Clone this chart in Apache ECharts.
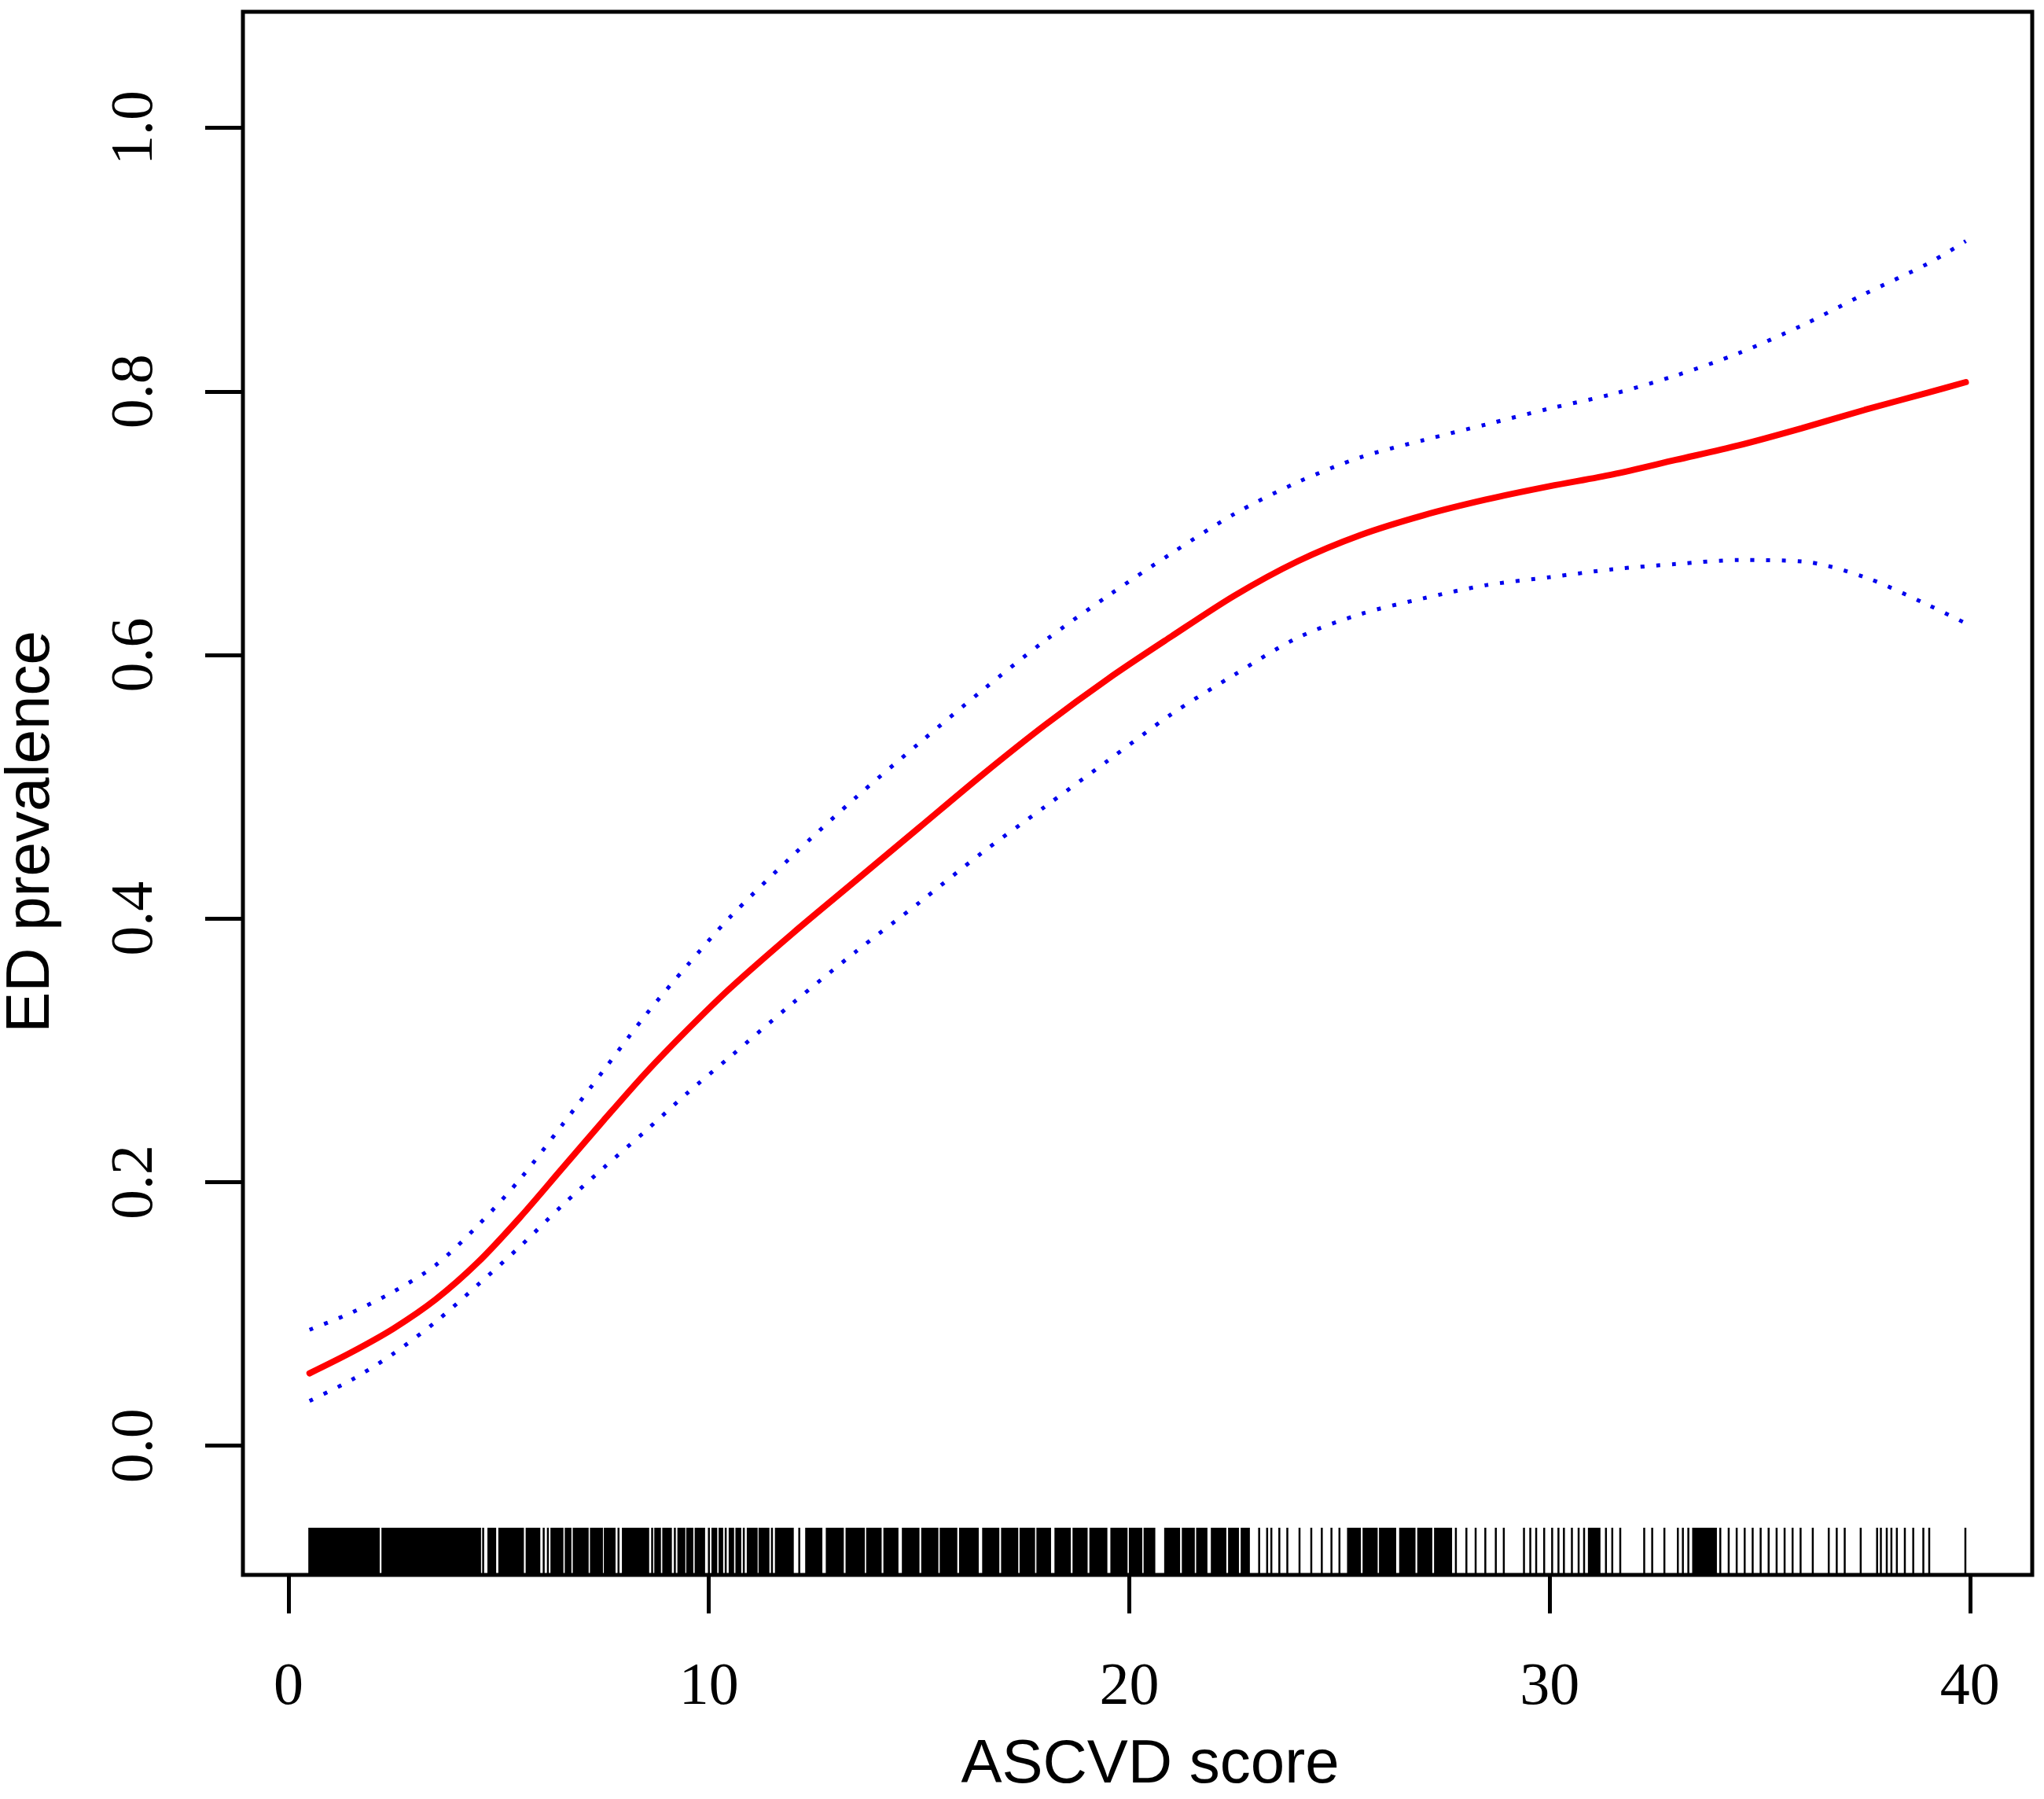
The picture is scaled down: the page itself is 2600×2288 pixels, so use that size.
<!DOCTYPE html>
<html>
<head>
<meta charset="utf-8">
<style>
  html, body { margin: 0; padding: 0; background: #fff; }
  #chart { width: 2600px; height: 2288px; }
</style>
</head>
<body>
<div id="chart"></div>
<script src="https://cdn.jsdelivr.net/npm/echarts@6/dist/echarts.min.js"></script>
<script>
var scoreX = [0.5, 1.5, 2.5, 3.5, 4.5, 5.5, 6.5, 7.5, 8.5, 9.5, 10.5, 12, 13.5, 15, 16.5, 18, 19.5,
              21, 22.5, 24, 25.5, 27, 28.5, 30, 31.5, 33, 34.5, 36, 37.5, 39, 39.9];
// fitted prevalence (red)
var fitY = [0.055, 0.071, 0.089, 0.111, 0.139, 0.173, 0.210, 0.247, 0.283, 0.316, 0.347, 0.389, 0.429,
            0.469, 0.509, 0.547, 0.582, 0.614, 0.645, 0.671, 0.691, 0.706, 0.718, 0.728, 0.737, 0.748,
            0.759, 0.772, 0.786, 0.799, 0.807];
// upper / lower confidence band (blue dotted)
var upperY = [0.088, 0.101, 0.117, 0.137, 0.167, 0.202, 0.243, 0.285, 0.327, 0.365, 0.401, 0.448, 0.492,
              0.533, 0.573, 0.611, 0.645, 0.677, 0.707, 0.731, 0.750, 0.763, 0.775, 0.787, 0.798, 0.812,
              0.829, 0.850, 0.874, 0.897, 0.914];
var lowerY = [0.034, 0.050, 0.070, 0.094, 0.122, 0.151, 0.182, 0.211, 0.239, 0.268, 0.295, 0.336, 0.375,
              0.412, 0.450, 0.485, 0.520, 0.555, 0.585, 0.613, 0.631, 0.643, 0.653, 0.659, 0.665, 0.669,
              0.672, 0.671, 0.659, 0.638, 0.624];

// rug: spans where the ticks merge into solid black, then single ticks
var rugBlocks = [[0.48, 2.16], [2.22, 4.57], [4.74, 4.93], [5.00, 5.59], [5.65, 5.98], [6.24, 6.53],
                 [6.58, 6.72], [6.77, 7.13], [7.18, 7.47], [7.51, 7.77], [7.94, 8.57], [8.71, 8.85],
                 [8.90, 9.11], [9.26, 9.43], [9.47, 9.62], [9.67, 9.90], [10.07, 10.19], [10.24, 10.33],
                 [10.48, 10.59], [10.64, 10.76], [10.91, 11.15], [11.19, 11.43], [11.58, 12.01],
                 [12.30, 12.69], [12.79, 13.20], [13.26, 13.70], [13.75, 14.10], [14.16, 14.50],
                 [14.60, 15.00], [15.06, 15.45], [15.50, 15.90], [15.96, 16.41], [16.51, 16.90],
                 [16.96, 17.35], [17.40, 17.75], [17.80, 18.13], [18.23, 18.60], [18.66, 19.00],
                 [19.06, 19.47], [19.56, 19.95], [20.00, 20.30], [20.35, 20.61], [20.84, 21.20],
                 [21.26, 21.55], [21.60, 21.85], [21.95, 22.30], [22.36, 22.60], [22.66, 22.86],
                 [25.19, 25.50], [25.56, 25.90], [25.95, 26.34], [26.43, 26.80], [26.86, 27.20],
                 [27.26, 27.67], [30.92, 31.20], [33.40, 33.97]];
var rugTicks = [4.63, 6.07, 6.17, 7.85, 8.65, 9.19, 10.00, 10.40, 10.83, 11.50, 12.15, 23.09, 23.28,
                23.38, 23.57, 23.76, 24.05, 24.33, 24.58, 24.81, 25.00, 27.77, 28.02, 28.24, 28.47, 28.72,
                28.91, 29.39, 29.54, 29.68, 29.87, 30.06, 30.21, 30.34, 30.53, 30.69, 30.82, 31.34, 31.49,
                31.68, 32.25, 32.44, 32.73, 33.05, 33.17, 33.30, 34.06, 34.26, 34.45, 34.64, 34.83, 35.02,
                35.21, 35.40, 35.59, 35.78, 35.97, 36.26, 36.64, 36.83, 37.02, 37.40, 37.79, 37.88, 38.02,
                38.13, 38.26, 38.45, 38.65, 38.89, 39.03, 39.89];

var xTicks = [0, 10, 20, 30, 40];
var yTicks = [0, 0.2, 0.4, 0.6, 0.8, 1.0];
var xMin = -1.085, xMax = 41.48;
var yMin = -0.098, yMax = 1.088;

function pairs(xs, ys) {
    var out = [];
    for (var i = 0; i < xs.length; i++) out.push([xs[i], ys[i]]);
    return out;
}

var rugLen = 60;
var chart = echarts.init(document.getElementById('chart'));
var option = {
    animation: false,
    backgroundColor: '#fff',
    grid: {
        left: 309, top: 15, right: 15, bottom: 285,
        show: true, borderColor: '#000', borderWidth: 5,
        outerBoundsMode: 'none'
    },
    xAxis: {
        type: 'value', min: xMin, max: xMax,
        axisLine: { show: false, onZero: false },
        splitLine: { show: false },
        axisTick: {
            show: true, inside: false, length: 49, customValues: xTicks,
            lineStyle: { color: '#000', width: 5 }
        },
        axisLabel: {
            customValues: xTicks, margin: 106,
            fontFamily: 'Liberation Serif', fontSize: 76, color: '#000'
        }
    },
    yAxis: {
        type: 'value', min: yMin, max: yMax,
        axisLine: { show: false, onZero: false },
        splitLine: { show: false },
        axisTick: {
            show: true, inside: false, length: 48, customValues: yTicks,
            lineStyle: { color: '#000', width: 5 }
        },
        axisLabel: {
            customValues: yTicks, margin: 98, rotate: 90,
            fontFamily: 'Liberation Serif', fontSize: 76, color: '#000',
            formatter: function (v) { return v.toFixed(1); }
        }
    },
    graphic: [{
        type: 'text', x: 1463, y: 2245,
        style: {
            text: 'ASCVD score', fill: '#000',
            font: '78px "Liberation Sans", Arial, sans-serif',
            textAlign: 'center', textVerticalAlign: 'middle'
        }
    }, {
        type: 'text', x: 40, y: 1058, rotation: Math.PI / 2,
        style: {
            text: 'ED prevalence', fill: '#000',
            font: '78px "Liberation Sans", Arial, sans-serif',
            textAlign: 'center', textVerticalAlign: 'middle'
        }
    }],
    series: [{
        name: 'upper',
        type: 'line', smooth: 0.3, symbol: 'none',
        lineStyle: { color: '#0000ee', width: 5, type: [5, 15] },
        data: pairs(scoreX, upperY)
    }, {
        name: 'lower',
        type: 'line', smooth: 0.3, symbol: 'none',
        lineStyle: { color: '#0000ee', width: 5, type: [5, 15] },
        data: pairs(scoreX, lowerY)
    }, {
        name: 'fit',
        type: 'line', smooth: 0.3, symbol: 'none',
        lineStyle: { color: '#ff0000', width: 8, cap: 'round' },
        data: pairs(scoreX, fitY)
    }, {
        name: 'rugBlocks',
        type: 'custom', clip: false,
        renderItem: function (params, api) {
            var p0 = api.coord([api.value(0), yMin]);
            var p1 = api.coord([api.value(1), yMin]);
            return {
                type: 'rect',
                shape: { x: p0[0] - 0.5, y: p0[1] - rugLen, width: p1[0] - p0[0] + 1, height: rugLen },
                style: { fill: '#000' }
            };
        },
        data: rugBlocks
    }, {
        name: 'rugTicks',
        type: 'custom', clip: false,
        renderItem: function (params, api) {
            var p = api.coord([api.value(0), yMin]);
            return {
                type: 'line',
                shape: { x1: p[0], y1: p[1], x2: p[0], y2: p[1] - rugLen },
                style: { stroke: '#000', lineWidth: 2.5 }
            };
        },
        data: rugTicks.map(function (v) { return [v]; })
    }]
};
chart.setOption(option);
</script>
</body>
</html>
